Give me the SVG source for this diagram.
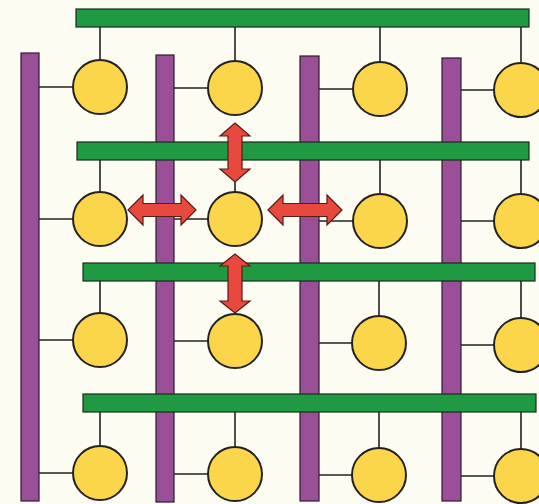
<svg xmlns="http://www.w3.org/2000/svg" width="539" height="504" viewBox="0 0 539 504">
<style>
.bg{fill:#fcfcf3}
.gb{fill:#1f9a42;stroke:#1d2a1d;stroke-width:1.2}
.pb{fill:#9a4f98;stroke:#2a1f2a;stroke-width:1.2}
.nd{fill:#fcd64a;stroke:#222;stroke-width:2}
.cn{stroke:#222;stroke-width:1.6;fill:none}
.ar{fill:#e8493f;stroke:#5a1a15;stroke-width:1.2;stroke-linejoin:miter}
</style>
<rect class="bg" x="0" y="0" width="539" height="504"/>
<g id="connectors">
<path class="cn" d="M100,27V60M235,27V61M380,27V62M521,27V63"/>
<path class="cn" d="M100,160V192M235,160V192M380,160V194M521,160V194"/>
<path class="cn" d="M100,281V313M235,281V314M379,281V316M521,281V318"/>
<path class="cn" d="M100,412V446M235,412V447M379,412V448M521,412V449"/>
<path class="cn" d="M39,87H73M174,88H208M319,89H353M461,90H494"/>
<path class="cn" d="M39,219H73M174,219H208M319,221H353M461,221H494"/>
<path class="cn" d="M39,340H73M174,341H208M319,343H352M461,345H494"/>
<path class="cn" d="M39,473H73M174,474H208M319,475H352M461,476H494"/>
</g>
<g id="vbus1"><rect class="pb" x="21" y="53" width="18" height="448"/></g>
<g id="vbus2"><rect class="pb" x="156" y="55" width="18" height="447"/></g>
<g id="vbus3"><rect class="pb" x="300" y="56" width="19" height="445"/></g>
<g id="vbus4"><rect class="pb" x="442" y="58" width="19" height="443"/></g>
<g id="hbus1"><rect class="gb" x="76" y="9" width="453" height="18"/></g>
<g id="hbus2"><rect class="gb" x="77" y="142" width="452" height="18"/></g>
<g id="hbus3"><rect class="gb" x="83" y="263" width="452" height="18"/></g>
<g id="hbus4"><rect class="gb" x="83" y="394" width="453" height="18"/></g>
<g id="n11"><circle class="nd" cx="100" cy="87" r="27"/></g>
<g id="n12"><circle class="nd" cx="235" cy="88" r="27"/></g>
<g id="n13"><circle class="nd" cx="380" cy="89" r="27"/></g>
<g id="n14"><circle class="nd" cx="521" cy="90" r="27"/></g>
<g id="n21"><circle class="nd" cx="100" cy="219" r="27"/></g>
<g id="n22"><circle class="nd" cx="235" cy="219" r="27"/></g>
<g id="n23"><circle class="nd" cx="380" cy="221" r="27"/></g>
<g id="n24"><circle class="nd" cx="521" cy="221" r="27"/></g>
<g id="n31"><circle class="nd" cx="100" cy="340" r="27"/></g>
<g id="n32"><circle class="nd" cx="235" cy="341" r="27"/></g>
<g id="n33"><circle class="nd" cx="379" cy="343" r="27"/></g>
<g id="n34"><circle class="nd" cx="521" cy="345" r="27"/></g>
<g id="n41"><circle class="nd" cx="100" cy="473" r="27"/></g>
<g id="n42"><circle class="nd" cx="235" cy="474" r="27"/></g>
<g id="n43"><circle class="nd" cx="379" cy="475" r="27"/></g>
<g id="n44"><circle class="nd" cx="521" cy="476" r="27"/></g>
<g id="arrows">
<polygon class="ar" points="128,210 143,195 143,203.5 181,203.5 181,195 196,210 181,225 181,216.5 143,216.5 143,225"/>
<polygon class="ar" points="268,210 283,195 283,203.5 327,203.5 327,195 342,210 327,225 327,216.5 283,216.5 283,225"/>
<polygon class="ar" points="235,123 250,136 242,136 242,169 250,169 235,182 220,169 228,169 228,136 220,136"/>
<polygon class="ar" points="235,254 250,266 242,266 242,301 250,301 235,313 220,301 228,301 228,266 220,266"/>
</g>
</svg>
